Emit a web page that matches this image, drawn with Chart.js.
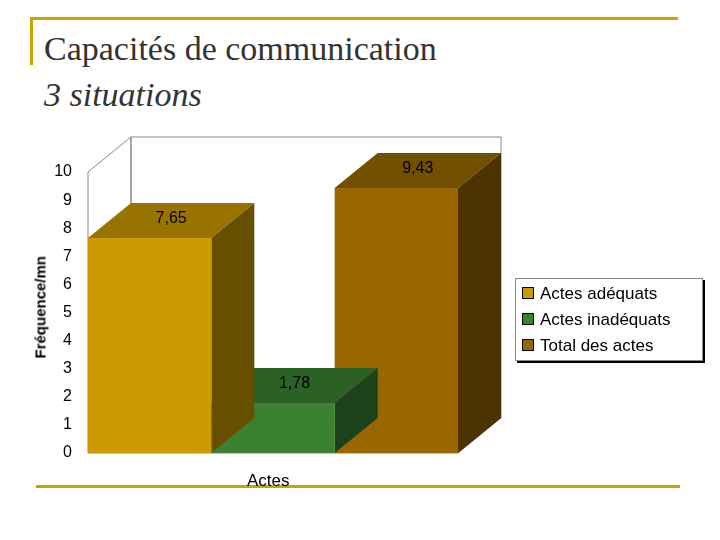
<!DOCTYPE html>
<html><head><meta charset="utf-8">
<script src="https://cdn.jsdelivr.net/npm/chart.js@4/dist/chart.umd.min.js"></script>
<style>
body{margin:0;width:720px;height:540px;background:#fff;position:relative;overflow:hidden;font-family:Arial,"Liberation Sans",sans-serif}
canvas{position:absolute;left:0;top:0}
.t{position:absolute;font-family:"Times New Roman","Liberation Serif",serif;font-size:34px;color:#333}
.l{position:absolute;background:#c9a400}
#legend{position:absolute;left:515px;top:278px;width:186px;height:81px;border:1px solid #888;background:#fff;box-shadow:2px 2px 0 #000}
#legend div{position:absolute;left:6px;font-size:17px;color:#000}
#legend span{display:inline-block;width:10px;height:10px;margin-right:6px;border:1px solid #000}
</style></head><body>
<div class="l" style="left:30px;top:17px;width:648px;height:3px"></div>
<div class="l" style="left:30px;top:17px;width:3px;height:48px"></div>
<div class="l" style="left:36px;top:485px;width:644px;height:3px"></div>
<div class="t" style="left:44px;top:30px">Capacités de communication</div>
<div class="t" style="left:44px;top:76px;font-style:italic">3 situations</div>
<canvas id="c" width="720" height="540"></canvas>
<div style="position:absolute;left:-10px;top:300px;width:100px;text-align:center;transform:rotate(-90deg);font-size:15px;font-weight:bold">Fréquence/mn</div>
<div style="position:absolute;left:247px;top:471px;font-size:17px">Actes</div>
<div id="legend"></div>
<script>
const categories=["Actes"];
const seriesNames=["Actes adéquats","Actes inadéquats","Total des actes"];
const seriesValues=[[7.65],[1.78],[9.43]];
const valueLabels=["7,65","1,78","9,43"];
const frontColors=["#CC9900","#3A8232","#996600"];
const topColors=["#997300","#2B6125","#735000"];
const sideColors=["#665000","#1D411A","#4D3300"];
const DX=43,DY=35;
const lg=document.getElementById('legend');
seriesNames.forEach((n,i)=>{const d=document.createElement('div');d.style.top=(5+i*26)+'px';d.innerHTML='<span style="background:'+frontColors[i]+'"></span>'+n;lg.appendChild(d);});
const threeD={id:'threeD',
beforeDatasetsDraw(ch){const c=ch.ctx,a=ch.chartArea;c.save();c.strokeStyle='#888';c.lineWidth=1;c.fillStyle='#fff';
 c.beginPath();c.rect(a.left+DX,a.top-DY,a.right-a.left,a.bottom-a.top);c.fill();c.stroke();
 c.beginPath();c.moveTo(a.left,a.bottom);c.lineTo(a.left+DX,a.bottom-DY);c.lineTo(a.left+DX,a.top-DY);c.lineTo(a.left,a.top);c.closePath();c.stroke();
 c.beginPath();c.moveTo(a.left,a.bottom);c.lineTo(a.right,a.bottom);c.lineTo(a.right+DX,a.bottom-DY);c.stroke();
 c.restore();},
afterDatasetsDraw(ch){const c=ch.ctx;c.save();
 for(let i=ch.data.datasets.length-1;i>=0;i--){const b=ch.getDatasetMeta(i).data[0];const l=b.x-b.width/2,r=b.x+b.width/2,t=b.y,bt=b.base;
  c.fillStyle=topColors[i];c.beginPath();c.moveTo(l,t);c.lineTo(l+DX,t-DY);c.lineTo(r+DX,t-DY);c.lineTo(r,t);c.closePath();c.fill();
  c.fillStyle=sideColors[i];c.beginPath();c.moveTo(r,t);c.lineTo(r+DX,t-DY);c.lineTo(r+DX,bt-DY);c.lineTo(r,bt);c.closePath();c.fill();
  c.fillStyle=frontColors[i];c.fillRect(l,t,r-l,bt-t);}
 c.fillStyle='#000';c.font='16px Arial';c.textAlign='center';c.textBaseline='middle';
 ch.data.datasets.forEach((d,i)=>{const b=ch.getDatasetMeta(i).data[0];c.fillText(valueLabels[i],b.x+DX/2,b.y-DY/2-2);});
 c.restore();}};
new Chart(document.getElementById('c'),{type:'bar',
data:{labels:categories,datasets:seriesNames.map((n,i)=>({label:n,data:seriesValues[i],backgroundColor:'rgba(0,0,0,0)',categoryPercentage:1,barPercentage:1}))},
options:{responsive:false,animation:false,devicePixelRatio:1,
 layout:{padding:{left:0,top:172,right:262,bottom:0}},
 plugins:{legend:{display:false},tooltip:{enabled:false}},
 scales:{x:{ticks:{display:false},grid:{display:false},border:{display:false},afterFit(s){s.height=87;}},
  y:{min:0,max:10,ticks:{stepSize:1,color:'#000',font:{size:16,family:'Arial'},padding:8},grid:{display:false},border:{display:false},afterFit(s){s.width=88;}}}},
plugins:[threeD]});
</script></body></html>
